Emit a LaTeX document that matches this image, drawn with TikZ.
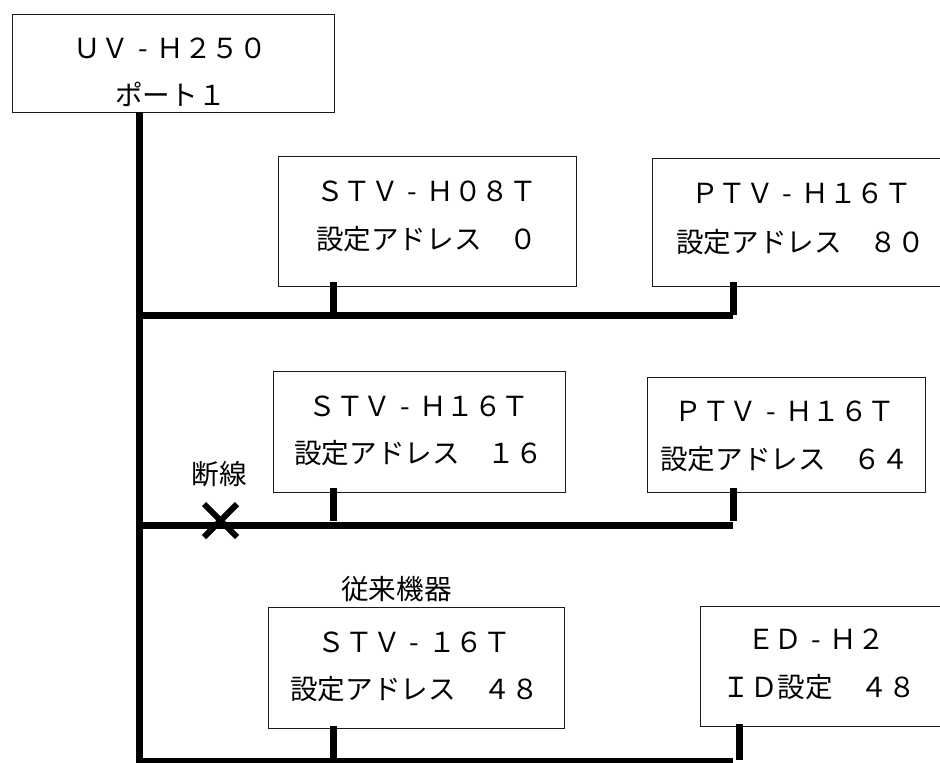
\documentclass[tikz,border=0pt]{standalone}
\usepackage{fontspec}
\setmainfont{Noto Sans CJK JP}
\newcommand{\hy}{\makebox[1em]{-}}
\begin{document}
\begin{tikzpicture}[x=1pt,y=-1pt,
  devbox/.style={draw=black!90,line width=1.4pt,inner sep=0pt,anchor=north west},
  boxtext/.style={font=\fontsize{27.6}{30}\selectfont,inner sep=0pt,anchor=base,text=black},
  bus/.style={line width=7pt,line cap=butt,black},
  cross/.style={line width=6pt,line cap=butt,black}]
\useasboundingbox (0,0) rectangle (940,763);
\clip (0,0) rectangle (940,763);
% boxes
\node[devbox,minimum width=322pt,minimum height=98pt] (uv) at (12,14) {};
\node[devbox,minimum width=298pt,minimum height=130pt] (sa) at (278,156) {};
\node[devbox,minimum width=310pt,minimum height=128pt] (pa) at (652,158) {};
\node[devbox,minimum width=292pt,minimum height=121pt] (sb) at (273,371) {};
\node[devbox,minimum width=278pt,minimum height=115pt] (pb) at (647,377) {};
\node[devbox,minimum width=296pt,minimum height=121pt] (sc) at (268,606.5) {};
\node[devbox,minimum width=300pt,minimum height=120pt] (ed) at (700,606) {};
% texts
\node[boxtext] (uva) at (170.5,58) {ＵＶ\hy Ｈ２５０};
\node[boxtext] (uvb) at (170.5,105) {ポート１};
\node[boxtext] (saa) at (426.5,201) {ＳＴＶ\hy Ｈ０８Ｔ};
\node[boxtext] (sab) at (426.5,249) {設定アドレス　０};
\node[boxtext] (paa) at (801.5,203) {ＰＴＶ\hy Ｈ１６Ｔ};
\node[boxtext] (pab) at (800.5,252) {設定アドレス　８０};
\node[boxtext] (sba) at (419,416) {ＳＴＶ\hy Ｈ１６Ｔ};
\node[boxtext] (sbb) at (418.5,463) {設定アドレス　１６};
\node[boxtext] (pba) at (785,421) {ＰＴＶ\hy Ｈ１６Ｔ};
\node[boxtext] (pbb) at (784.5,469) {設定アドレス　６４};
\node[boxtext] (sca) at (414.5,652) {ＳＴＶ\hy １６Ｔ};
\node[boxtext] (scb) at (414.5,699) {設定アドレス　４８};
\node[boxtext] (eda) at (816,649) {ＥＤ\hy Ｈ２};
\node[boxtext] (edb) at (819,697) {ＩＤ設定　４８};
\node[boxtext] (cut) at (219,484) {断線};
\node[boxtext] (old) at (396.5,599) {従来機器};
% trunk and branches
\coordinate (trunktop) at (139.5,112);
\coordinate (trunkend) at (139.5,763);
\coordinate (j1) at (139.5,315.5);
\coordinate (j2) at (139.5,525.5);
\coordinate (j3) at (136,761.5);
\coordinate (e1) at (733,315.5);
\coordinate (e2) at (733,525.5);
\coordinate (e3) at (733,761.5);
\coordinate (tsa1) at (333,282);  \coordinate (bsa1) at (333,314);
\coordinate (tpa1) at (733.5,282);\coordinate (bpa1) at (733.5,314.7);
\coordinate (tsb1) at (333.5,487.7);\coordinate (bsb1) at (333.5,521);
\coordinate (tpb1) at (733.5,487.7);\coordinate (bpb1) at (733.5,521);
\coordinate (tsc1) at (333.3,726);  \coordinate (bsc1) at (333.3,760);
\coordinate (ted1) at (739.5,724);\coordinate (bed1) at (739.5,760);
\draw[bus] (trunktop) -- (trunkend);
\draw[bus] (j1) -- (e1);
\draw[bus] (j2) -- (e2);
\draw[bus] (j3) -- (e3);
\draw[bus] (tsa1) -- (bsa1);
\draw[bus] (tpa1) -- (bpa1);
\draw[bus] (tsb1) -- (bsb1);
\draw[bus] (tpb1) -- (bpb1);
\draw[bus] (tsc1) -- (bsc1);
\draw[bus] (ted1) -- (bed1);
% break mark
\draw[cross] (204,504) -- (237,537);
\draw[cross] (237,504) -- (204,537);
\end{tikzpicture}
\end{document}
